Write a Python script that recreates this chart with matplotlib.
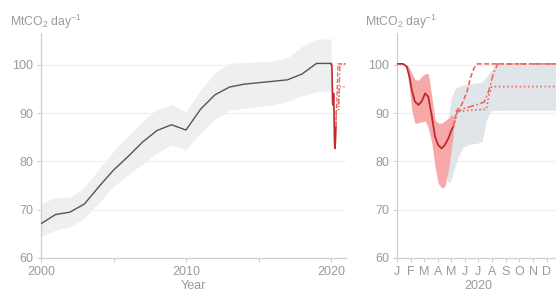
import matplotlib
matplotlib.use("Agg")
import matplotlib.pyplot as plt
import numpy as np

plt.rcParams['font.family'] = ['Liberation Sans', 'DejaVu Sans']
plt.rcParams['mathtext.fontset'] = 'custom'
plt.rcParams['mathtext.rm'] = 'Liberation Sans'
plt.rcParams['mathtext.it'] = 'Liberation Sans'

# ---- annual history (left panel) ----
years = [2000, 2001, 2002, 2003, 2004, 2005, 2006, 2007, 2008, 2009, 2010,
         2011, 2012, 2013, 2014, 2015, 2016, 2017, 2018, 2019, 2020]
hist = [67.1, 69.0, 69.5, 71.2, 74.8, 78.2, 81.0, 84.0, 86.4, 87.6, 86.5,
        90.8, 93.8, 95.4, 96.0, 96.3, 96.6, 96.9, 98.1, 100.3, 100.3]
hist_hi = [71.3, 72.5, 72.6, 74.6, 78.5, 82.1, 85.3, 88.3, 90.8, 91.8, 90.3,
           94.8, 98.3, 100.3, 100.5, 100.6, 100.8, 101.5, 103.8, 105.3, 105.4]
hist_lo = [64.4, 65.8, 66.5, 68.3, 71.5, 74.8, 77.3, 79.4, 81.8, 83.4, 82.4,
           85.9, 88.8, 90.6, 91.0, 91.4, 91.7, 92.4, 93.6, 94.4, 94.6]

# ---- daily 2020 (day of year) ----
obs_day = [0, 14, 22, 28, 33, 40, 48, 55, 63, 70, 78, 85, 92, 100, 107, 115, 122, 126]
obs_val = [100.2, 100.2, 99.6, 97.5, 94.8, 92.4, 91.7, 92.4, 94.1, 93.4, 89.3,
           85.2, 83.4, 82.7, 83.4, 84.8, 86.5, 87.2]
obs_hi = [100.2, 100.2, 100.0, 99.4, 98.3, 97.0, 96.8, 97.6, 98.2, 98.2, 93.4,
          88.6, 88.0, 87.9, 88.4, 89.0, 89.6, 89.5]
obs_lo = [100.2, 100.2, 99.2, 95.0, 90.6, 87.9, 88.0, 88.2, 88.4, 87.0, 83.8,
          79.0, 75.5, 74.5, 74.8, 78.2, 83.0, 85.2]

proj_day = [112, 118, 122, 130, 137, 148, 160, 175, 190, 200, 210, 222, 366]
proj_hi = [87.0, 91.0, 93.5, 95.0, 95.5, 95.8, 96.0, 96.2, 96.5, 97.5, 98.8, 100.2, 100.2]
proj_lo = [76.0, 75.5, 76.5, 79.0, 81.0, 83.0, 83.5, 83.7, 84.0, 88.5, 90.5, 90.6, 90.6]

s1_day = [126, 133, 145, 156, 165, 172, 180, 366]
s1_val = [87.2, 90.4, 91.8, 94.3, 97.5, 99.3, 100.2, 100.2]
s2_day = [126, 135, 150, 170, 195, 205, 215, 225, 366]
s2_val = [87.2, 90.3, 91.0, 91.5, 92.3, 94.5, 98.0, 100.2, 100.2]
s3_day = [126, 135, 160, 200, 205, 212, 366]
s3_val = [87.2, 90.3, 90.6, 90.8, 93.5, 95.5, 95.5]

month_starts = [0, 31, 60, 91, 121, 152, 182, 213, 244, 274, 305, 335]
month_labels = ['J', 'F', 'M', 'A', 'M', 'J', 'J', 'A', 'S', 'O', 'N', 'D']

TXT = '#9a9a9a'
SPINE = '#cfcfcf'
GRID = '#efefef'
LINE = '#555555'
BAND = '#eeeff0'
PBAND = '#dfe5e8'
RED = '#be2a2e'
RBAND = '#f7a4a4'
DRED = '#eb6a64'

W, H = 556, 291
fig = plt.figure(figsize=(W / 100, H / 100), dpi=100)
bot = (H - 258) / H
hgt = (258 - 33) / H
ax1 = fig.add_axes([41 / W, bot, 304.5 / W, hgt])
ax2 = fig.add_axes([397 / W, bot, 163.6 / W, hgt])

for ax in (ax1, ax2):
    ax.set_ylim(60, 106.6)
    ax.set_yticks([60, 70, 80, 90, 100])
    for s in ('top', 'right'):
        ax.spines[s].set_visible(False)
    for s in ('left', 'bottom'):
        ax.spines[s].set_color(SPINE)
        ax.spines[s].set_linewidth(0.9)
    ax.tick_params(colors=SPINE, labelcolor=TXT, labelsize=9, length=3, width=0.8, pad=2.5)
    ax.grid(axis='y', color=GRID, lw=0.8)
    ax.set_axisbelow(True)

def d2y(d):
    return 2020 + np.asarray(d) / 366.0

# left panel
ax1.fill_between(years, hist_lo, hist_hi, color=BAND, lw=0, zorder=1)
ax1.plot(years, hist, color=LINE, lw=1.0, zorder=3)
ax1.plot(d2y(obs_day), obs_val, color=RED, lw=1.2, zorder=4)
ax1.plot(d2y(s1_day), s1_val, color=DRED, lw=1.0, ls=(0, (3, 1.5)), zorder=4)
ax1.plot(d2y(s2_day), s2_val, color=DRED, lw=1.0, ls=(0, (4, 1.5, 1, 1.5)), zorder=4)
ax1.plot(d2y(s3_day), s3_val, color=DRED, lw=1.0, ls=(0, (1, 1.5)), zorder=4)
ax1.set_xlim(2000, 2021)
ax1.set_xticks([2000, 2005, 2010, 2015, 2020])
ax1.set_xticklabels(['2000', '', '2010', '', '2020'])

# right panel
ax2.fill_between(proj_day, proj_lo, proj_hi, color=PBAND, lw=0, zorder=1)
ax2.fill_between(obs_day, obs_lo, obs_hi, color=RBAND, lw=0, zorder=2, alpha=0.95)
ax2.plot(obs_day, obs_val, color=RED, lw=1.3, zorder=4)
ax2.plot(s1_day, s1_val, color=DRED, lw=1.2, ls=(0, (3, 1.5)), zorder=4)
ax2.plot(s2_day, s2_val, color=DRED, lw=1.2, ls=(0, (4, 1.5, 1, 1.5)), zorder=4)
ax2.plot(s3_day, s3_val, color=DRED, lw=1.2, ls=(0, (1, 1.5)), zorder=4)
ax2.set_xlim(0, 366)
ax2.set_xticks(month_starts)
ax2.set_xticklabels(month_labels)

ylab = r'MtCO$_2$ day$^{-1}$'
fig.text(10 / W, 1 - 22 / H, ylab, color=TXT, fontsize=8.8, ha='left', va='center')
fig.text(365 / W, 1 - 22 / H, ylab, color=TXT, fontsize=8.8, ha='left', va='center')
fig.text((41 + 345.5) / 2 / W, 1 - 286 / H, 'Year', color=TXT, fontsize=9, ha='center', va='center')
fig.text((397 + 560.6) / 2 / W, 1 - 286 / H, '2020', color=TXT, fontsize=9, ha='center', va='center')

fig.savefig('out.png', dpi=100)
